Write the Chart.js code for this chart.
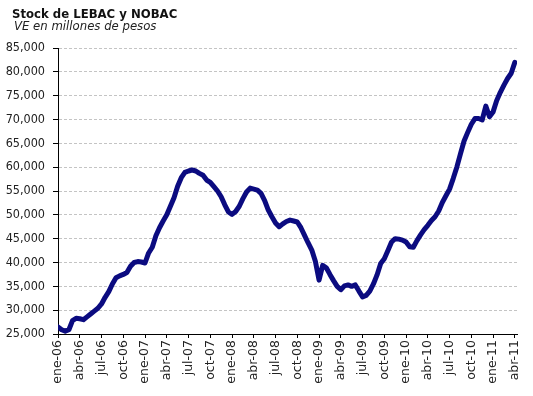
<!DOCTYPE html>
<html><head><meta charset="utf-8">
<script src="https://cdn.jsdelivr.net/npm/chart.js@4.4.1/dist/chart.umd.min.js"></script>
<style>html,body{margin:0;padding:0;background:#fff;}canvas{display:block}</style>
</head><body>
<canvas id="c" width="533" height="396"></canvas>
<script>
const titleText = 'Stock de LEBAC y NOBAC';
const subtitleText = 'VE en millones de pesos';
// quarterly tick labels (every 3 months starting ene-06)
const tickLabels = ['ene-06','abr-06','jul-06','oct-06','ene-07','abr-07','jul-07','oct-07','ene-08','abr-08','jul-08','oct-08','ene-09','abr-09','jul-09','oct-09','ene-10','abr-10','jul-10','oct-10','ene-11','abr-11'];
// semi-monthly observations from ene-06 to abr-11 (millones de pesos)
const stockValues = [
 26500,25900,25600,25900,27800,28300,28200,28000,28600,29200,
 29800,30400,31300,32700,33900,35500,36800,37200,37500,37900,
 39200,40000,40200,40100,39900,42000,43200,45600,47300,48700,
 50000,51800,53600,56000,57800,58900,59200,59400,59200,58700,
 58300,57300,56800,55900,55000,53800,52100,50600,50100,50700,
 51800,53400,54800,55600,55400,55200,54500,53000,51000,49600,
 48300,47500,48100,48600,48900,48700,48500,47300,45700,44100,
 42600,40200,36300,39400,38900,37500,36200,35000,34300,35100,
 35300,35000,35300,34000,32800,33100,34000,35500,37400,39800,
 40800,42500,44300,45000,44900,44700,44300,43300,43200,44600,
 45800,46900,47800,48800,49600,50800,52600,54000,55400,57600,
 60000,62800,65500,67300,69000,70200,70200,69900,72800,70600,
 71600,74000,75700,77200,78600,79700,82000
];
const yTicks = [25000,30000,35000,40000,45000,50000,55000,60000,65000,70000,75000,80000,85000];

const points = stockValues.map((v, i) => ({ x: i / 2, y: v }));

const headerPlugin = {
  id: 'header',
  afterDraw(chart) {
    const c = chart.ctx;
    c.save();
    c.textAlign = 'left';
    c.textBaseline = 'alphabetic';
    c.fillStyle = '#111';
    c.font = 'bold 13px "DejaVu Sans Condensed"';
    c.fillText(titleText, 12, 18);
    c.fillStyle = '#222';
    c.font = 'italic 13px "DejaVu Sans Condensed"';
    c.fillText(subtitleText, 14, 30);
    c.restore();
  }
};

new Chart(document.getElementById('c').getContext('2d'), {
  type: 'line',
  data: { datasets: [{
    data: points,
    borderColor: '#0b0b80',
    borderWidth: 5,
    pointRadius: 0,
    tension: 0,
    fill: false,
    borderJoinStyle: 'round',
    borderCapStyle: 'round'
  }]},
  plugins: [headerPlugin],
  options: {
    responsive: false,
    animation: false,
    devicePixelRatio: 1,
    layout: { padding: { left: 0, right: 16, top: 48, bottom: 0 } },
    plugins: {
      legend: { display: false },
      tooltip: { enabled: false },
      title: { display: false },
      subtitle: { display: false }
    },
    scales: {
      x: {
        type: 'linear', min: 0, max: 63.3,
        afterBuildTicks: s => { s.ticks = tickLabels.map((_, k) => ({ value: k * 3 })); },
        ticks: { autoSkip: false, maxRotation: 90, minRotation: 90, padding: 2, color: '#222',
          font: { family: 'DejaVu Sans', size: 12.5 },
          callback: v => tickLabels[Math.round(v / 3)] },
        grid: { drawOnChartArea: false, drawTicks: true, tickLength: 4, tickColor: '#000' },
        border: { color: '#000', width: 1 },
        afterFit: s => { s.height = 62; }
      },
      y: {
        min: 25000, max: 85000,
        afterBuildTicks: s => { s.ticks = yTicks.map(v => ({ value: v })); },
        ticks: { padding: 8, color: '#222',
          font: { family: 'DejaVu Sans Condensed', size: 12.5 },
          callback: v => v.toLocaleString('en-US') },
        grid: { color: '#c4c4c4', tickColor: '#000', tickLength: 5, tickBorderDash: [] },
        border: { color: '#000', width: 1, dash: [3, 2] },
        afterFit: s => { s.width = 58; }
      }
    }
  }
});
</script>
</body></html>
